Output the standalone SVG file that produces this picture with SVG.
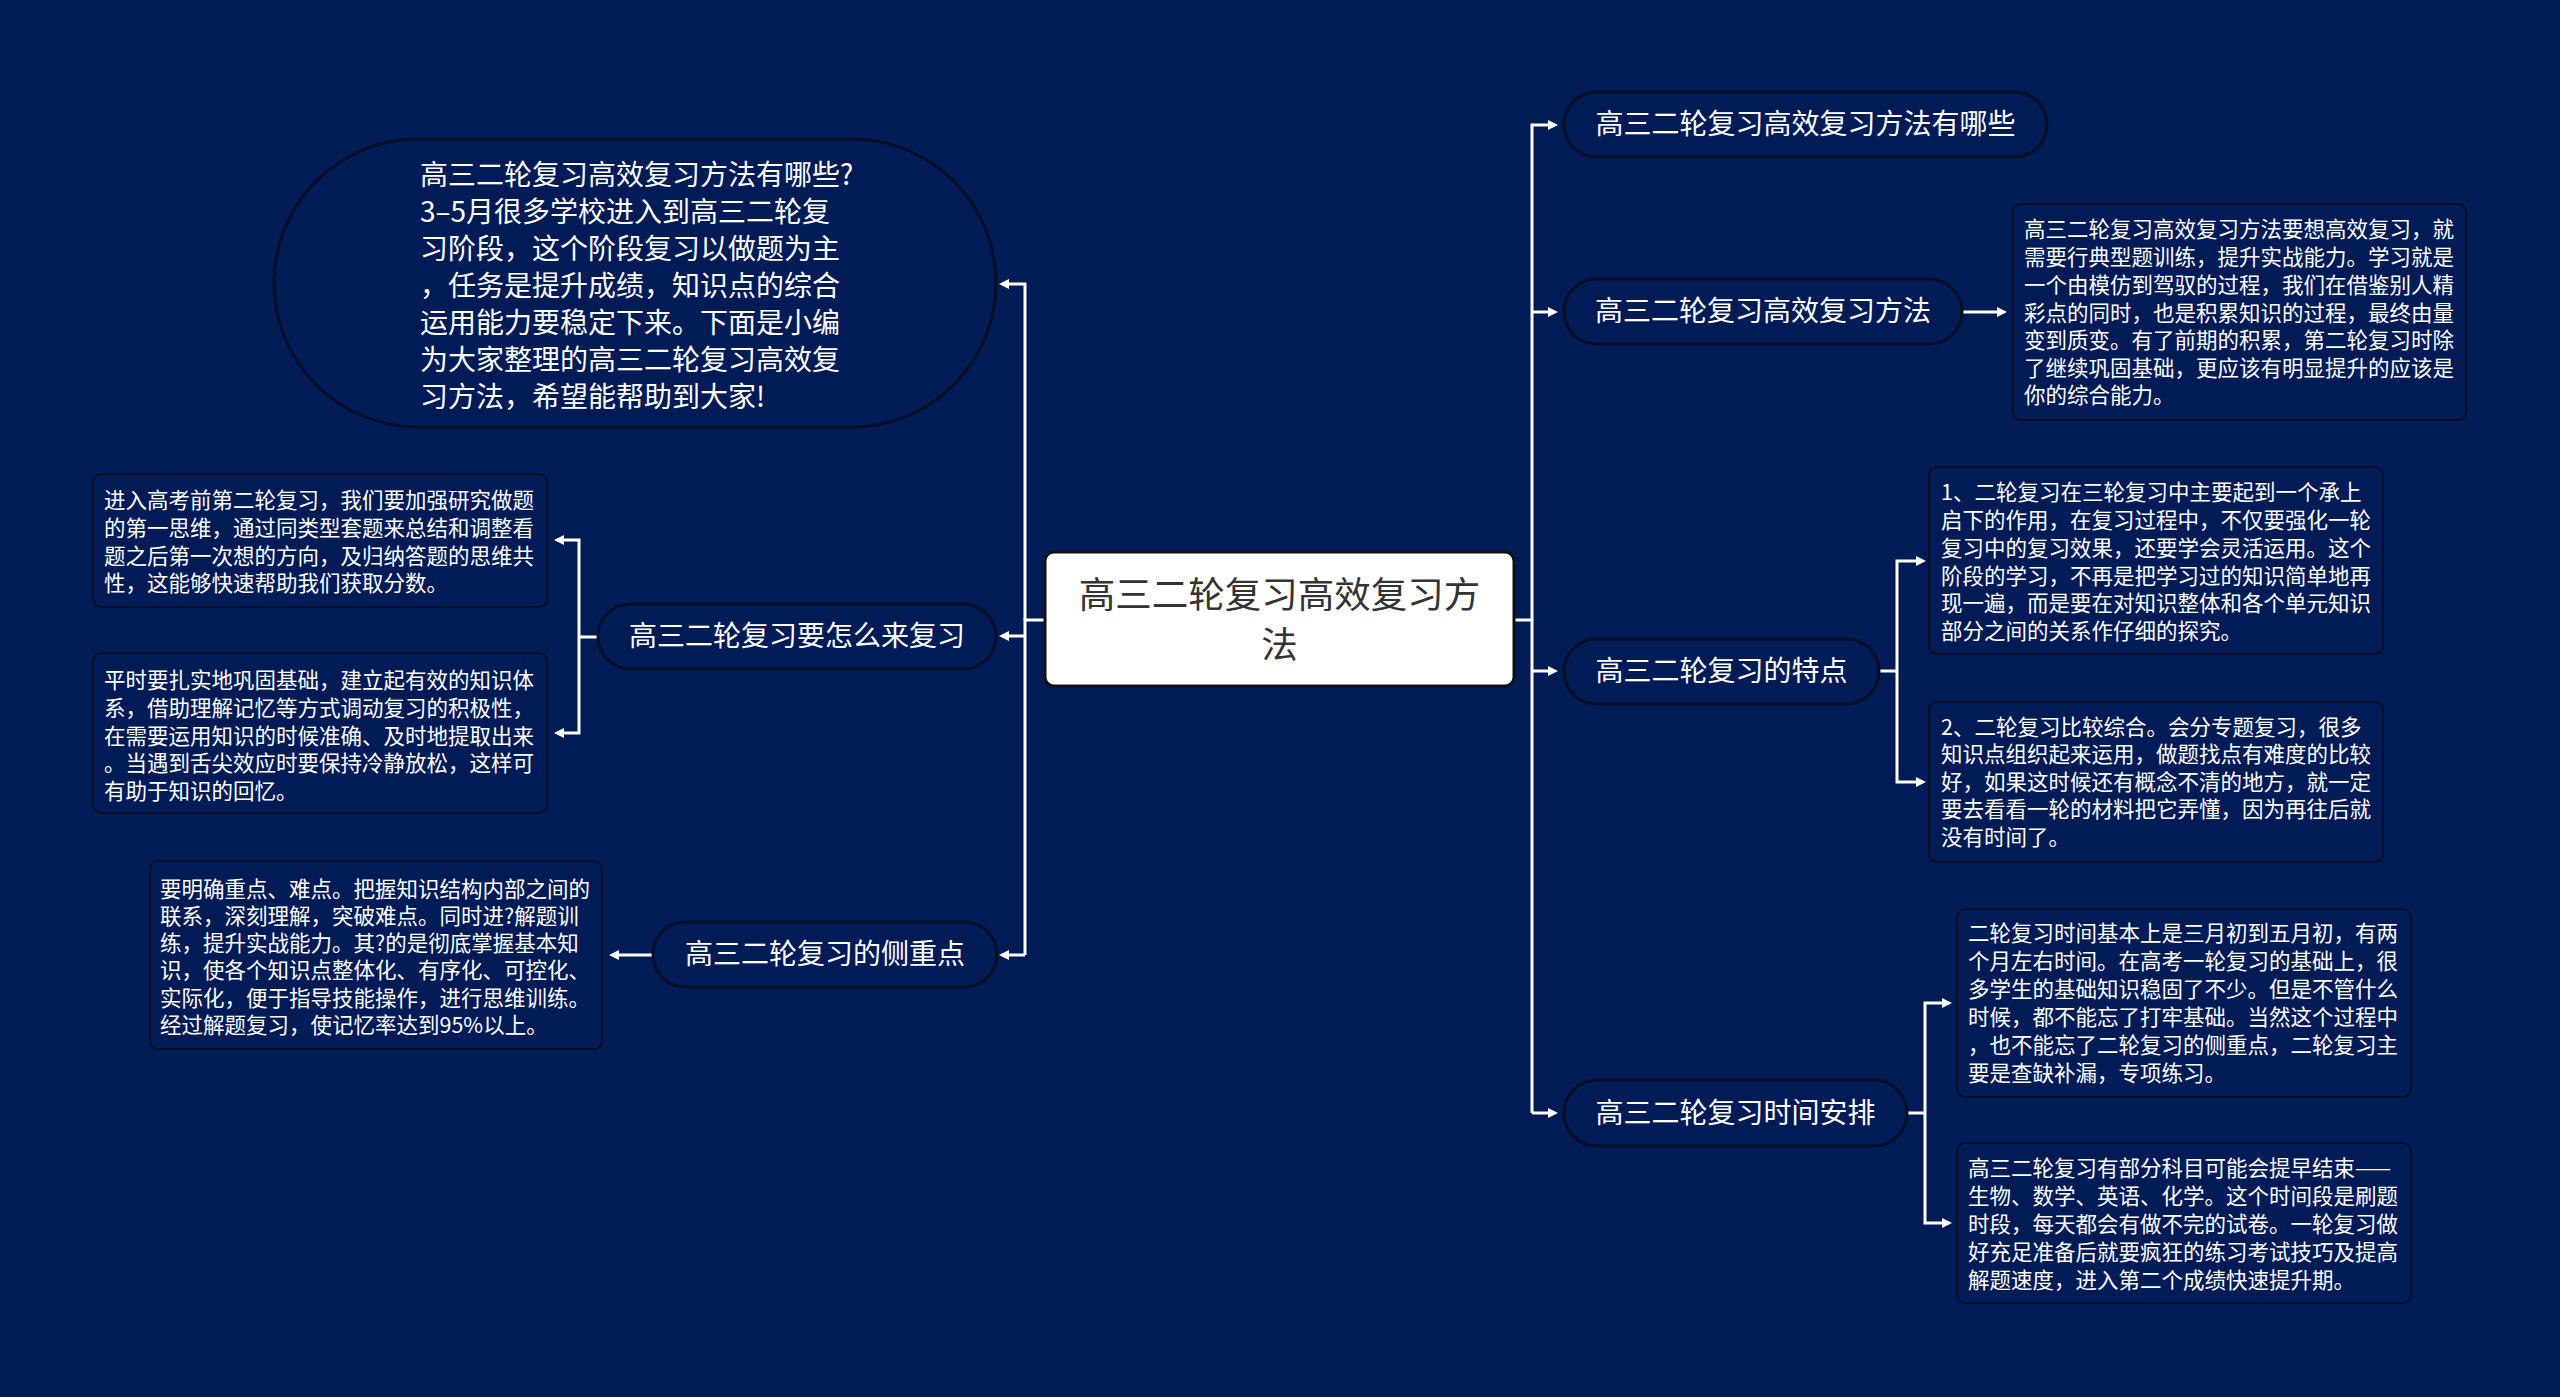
<svg xmlns="http://www.w3.org/2000/svg" width="2560" height="1397" viewBox="0 0 2560 1397">
<style>
.pill{fill:#011b56;stroke:#070d26;stroke-width:3}
.box{fill:#011b56;stroke:#070d26;stroke-width:2}
.nt{font-family:"Noto Sans CJK SC","Noto Sans",sans-serif;font-size:28px;fill:#ffffff;text-anchor:middle;dominant-baseline:central}
.bt{font-family:"Noto Sans CJK SC","Noto Sans",sans-serif;font-size:21.5px;fill:#ffffff;dominant-baseline:central}
.pt{font-family:"Noto Sans CJK SC","Noto Sans",sans-serif;font-size:28px;fill:#ffffff;dominant-baseline:central}
.ct{font-family:"Noto Sans CJK SC","Noto Sans",sans-serif;font-size:36.5px;fill:#333333;text-anchor:middle;dominant-baseline:central}
.nt,.bt,.pt,.ct{transform:translate(0px,-2px)}
.ln{fill:none;stroke:#ffffff;stroke-width:3}
.ar{marker-end:url(#arw)}
</style>
<defs>
<marker id="arw" viewBox="0 0 10 10" refX="7" refY="5" markerWidth="10" markerHeight="10" markerUnits="userSpaceOnUse" orient="auto">
<path d="M0,0 L10,5 L0,10 z" fill="#ffffff"/>
</marker>
</defs>
<rect x="0" y="0" width="2560" height="1397" fill="#011b56"/>

<g id="connectors">
<path class="ln" d="M1045,620 H1025 V955"/>
<path class="ln ar" d="M1025,620 V284 H1002"/>
<path class="ln ar" d="M1025,636 H1002"/>
<path class="ln ar" d="M1025,955 H1002"/>
<path class="ln" d="M1514,620 H1532 V1113"/>
<path class="ln ar" d="M1532,620 V125 H1555"/>
<path class="ln ar" d="M1532,312 H1555"/>
<path class="ln ar" d="M1532,671 H1555"/>
<path class="ln ar" d="M1532,1113 H1555"/>
<path class="ln ar" d="M1962,312 H2004"/>
<path class="ln" d="M1879,671 H1897"/>
<path class="ln ar" d="M1897,671 V561 H1923"/>
<path class="ln ar" d="M1897,671 V782 H1923"/>
<path class="ln" d="M1907,1113 H1925"/>
<path class="ln ar" d="M1925,1113 V1003 H1949"/>
<path class="ln ar" d="M1925,1113 V1223 H1949"/>
<path class="ln" d="M598,637 H579"/>
<path class="ln ar" d="M579,637 V540 H557"/>
<path class="ln ar" d="M579,637 V733 H557"/>
<path class="ln ar" d="M653,955 H612"/>
</g>

<g id="center">
<rect x="1045" y="552" width="469" height="134" rx="9" fill="#ffffff" stroke="#111111" stroke-width="3"/>
<text class="ct" x="1279.5" y="594">高三二轮复习高效复习方</text>
<text class="ct" x="1279.5" y="644">法</text>
</g>

<g id="intro">
<rect class="pill" x="274" y="139" width="722" height="288" rx="144" ry="144"/>
<text class="pt" x="420" y="175">高三二轮复习高效复习方法有哪些?</text>
<text class="pt" x="420" y="212">3–5月很多学校进入到高三二轮复</text>
<text class="pt" x="420" y="249">习阶段，这个阶段复习以做题为主</text>
<text class="pt" x="420" y="286">，任务是提升成绩，知识点的综合</text>
<text class="pt" x="420" y="323">运用能力要稳定下来。下面是小编</text>
<text class="pt" x="420" y="360">为大家整理的高三二轮复习高效复</text>
<text class="pt" x="420" y="397">习方法，希望能帮助到大家!</text>
</g>

<g id="how">
<rect class="pill" x="598" y="604" width="398" height="65" rx="32.5"/>
<text class="nt" x="797" y="636">高三二轮复习要怎么来复习</text>
</g>
<g id="how1">
<rect class="box" x="93" y="474" width="454" height="133" rx="8"/>
<text class="bt" x="104" y="500">进入高考前第二轮复习，我们要加强研究做题</text>
<text class="bt" x="104" y="528">的第一思维，通过同类型套题来总结和调整看</text>
<text class="bt" x="104" y="556">题之后第一次想的方向，及归纳答题的思维共</text>
<text class="bt" x="104" y="583">性，这能够快速帮助我们获取分数。</text>
</g>
<g id="how2">
<rect class="box" x="93" y="653" width="454" height="160" rx="8"/>
<text class="bt" x="104" y="680">平时要扎实地巩固基础，建立起有效的知识体</text>
<text class="bt" x="104" y="708">系，借助理解记忆等方式调动复习的积极性，</text>
<text class="bt" x="104" y="736">在需要运用知识的时候准确、及时地提取出来</text>
<text class="bt" x="104" y="763">。当遇到舌尖效应时要保持冷静放松，这样可</text>
<text class="bt" x="104" y="791">有助于知识的回忆。</text>
</g>

<g id="focus">
<rect class="pill" x="653" y="922" width="344" height="65" rx="32.5"/>
<text class="nt" x="825" y="954">高三二轮复习的侧重点</text>
</g>
<g id="focus1">
<rect class="box" x="150" y="861" width="452" height="188" rx="8"/>
<text class="bt" x="160" y="889">要明确重点、难点。把握知识结构内部之间的</text>
<text class="bt" x="160" y="916">联系，深刻理解，突破难点。同时进?解题训</text>
<text class="bt" x="160" y="943.5">练，提升实战能力。其?的是彻底掌握基本知</text>
<text class="bt" x="160" y="970.5">识，使各个知识点整体化、有序化、可控化、</text>
<text class="bt" x="160" y="998">实际化，便于指导技能操作，进行思维训练。</text>
<text class="bt" x="160" y="1025">经过解题复习，使记忆率达到95%以上。</text>
</g>

<g id="which">
<rect class="pill" x="1564" y="92" width="483" height="65" rx="32.5"/>
<text class="nt" x="1805.5" y="124">高三二轮复习高效复习方法有哪些</text>
</g>

<g id="method">
<rect class="pill" x="1564" y="279" width="398" height="65" rx="32.5"/>
<text class="nt" x="1763" y="311">高三二轮复习高效复习方法</text>
</g>
<g id="method1">
<rect class="box" x="2013" y="204" width="453" height="216" rx="8"/>
<text class="bt" x="2024" y="229">高三二轮复习高效复习方法要想高效复习，就</text>
<text class="bt" x="2024" y="257">需要行典型题训练，提升实战能力。学习就是</text>
<text class="bt" x="2024" y="285">一个由模仿到驾驭的过程，我们在借鉴别人精</text>
<text class="bt" x="2024" y="313">彩点的同时，也是积累知识的过程，最终由量</text>
<text class="bt" x="2024" y="340">变到质变。有了前期的积累，第二轮复习时除</text>
<text class="bt" x="2024" y="368">了继续巩固基础，更应该有明显提升的应该是</text>
<text class="bt" x="2024" y="395">你的综合能力。</text>
</g>

<g id="feature">
<rect class="pill" x="1564" y="639" width="315" height="65" rx="32.5"/>
<text class="nt" x="1721.5" y="671">高三二轮复习的特点</text>
</g>
<g id="feature1">
<rect class="box" x="1929" y="467" width="454" height="187" rx="8"/>
<text class="bt" x="1941" y="492">1、二轮复习在三轮复习中主要起到一个承上</text>
<text class="bt" x="1941" y="520">启下的作用，在复习过程中，不仅要强化一轮</text>
<text class="bt" x="1941" y="548">复习中的复习效果，还要学会灵活运用。这个</text>
<text class="bt" x="1941" y="576">阶段的学习，不再是把学习过的知识简单地再</text>
<text class="bt" x="1941" y="603">现一遍，而是要在对知识整体和各个单元知识</text>
<text class="bt" x="1941" y="631">部分之间的关系作仔细的探究。</text>
</g>
<g id="feature2">
<rect class="box" x="1929" y="702" width="454" height="160" rx="8"/>
<text class="bt" x="1941" y="727">2、二轮复习比较综合。会分专题复习，很多</text>
<text class="bt" x="1941" y="754">知识点组织起来运用，做题找点有难度的比较</text>
<text class="bt" x="1941" y="782">好，如果这时候还有概念不清的地方，就一定</text>
<text class="bt" x="1941" y="809">要去看看一轮的材料把它弄懂，因为再往后就</text>
<text class="bt" x="1941" y="837">没有时间了。</text>
</g>

<g id="time">
<rect class="pill" x="1564" y="1080" width="343" height="66" rx="33"/>
<text class="nt" x="1735.5" y="1113">高三二轮复习时间安排</text>
</g>
<g id="time1">
<rect class="box" x="1957" y="909" width="454" height="188" rx="8"/>
<text class="bt" x="1968" y="933">二轮复习时间基本上是三月初到五月初，有两</text>
<text class="bt" x="1968" y="961">个月左右时间。在高考一轮复习的基础上，很</text>
<text class="bt" x="1968" y="989">多学生的基础知识稳固了不少。但是不管什么</text>
<text class="bt" x="1968" y="1017">时候，都不能忘了打牢基础。当然这个过程中</text>
<text class="bt" x="1968" y="1045">，也不能忘了二轮复习的侧重点，二轮复习主</text>
<text class="bt" x="1968" y="1073">要是查缺补漏，专项练习。</text>
</g>
<g id="time2">
<rect class="box" x="1957" y="1143" width="454" height="160" rx="8"/>
<text class="bt" x="1968" y="1168">高三二轮复习有部分科目可能会提早结束——</text>
<text class="bt" x="1968" y="1196">生物、数学、英语、化学。这个时间段是刷题</text>
<text class="bt" x="1968" y="1224">时段，每天都会有做不完的试卷。一轮复习做</text>
<text class="bt" x="1968" y="1252">好充足准备后就要疯狂的练习考试技巧及提高</text>
<text class="bt" x="1968" y="1280">解题速度，进入第二个成绩快速提升期。</text>
</g>
</svg>
